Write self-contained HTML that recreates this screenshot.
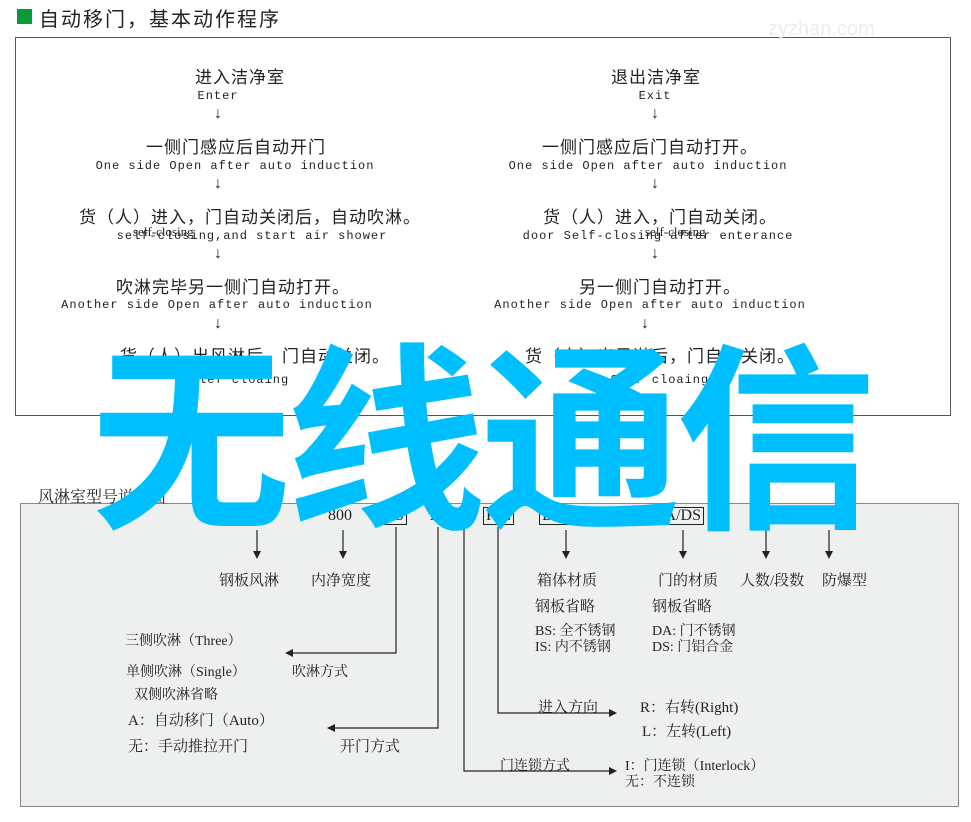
<!DOCTYPE html>
<html><head><meta charset="utf-8"><style>
body{margin:0;width:971px;height:822px;background:#fff;position:relative;overflow:hidden;font-family:"Liberation Serif","Noto Serif CJK SC",serif;color:#222}
.a{position:absolute;white-space:nowrap}
.c{position:absolute;white-space:nowrap;transform:translateX(-50%)}
.cn{font-size:17px;font-family:"Liberation Sans","Noto Sans CJK SC",sans-serif;letter-spacing:1px}
.en{font-size:12px;font-family:"Liberation Mono",monospace;letter-spacing:1px}
.ar{font-size:16px}
.b2{font-size:15px;font-family:"Liberation Serif","Noto Serif CJK SC",serif}
.box{position:absolute;border:1px solid #222;padding:0 2px;font-size:16px;line-height:16px}
</style></head><body>
<div class="a" style="left:17px;top:9px;width:15px;height:15px;background:#0a9a3a"></div>
<div class="a" style="left:39px;top:3px;font-size:20px;font-family:'Liberation Sans','Noto Sans CJK SC',sans-serif;letter-spacing:2px">自动移门，基本动作程序</div>
<div class="a" style="left:15px;top:37px;width:934px;height:377px;border:1px solid #555"></div>

<div class="c cn" style="left:240px;top:63px">进入洁净室</div>
<div class="c en" style="left:218px;top:89px">Enter</div>
<div class="c ar" style="left:218px;top:105px">↓</div>
<div class="c cn" style="left:236px;top:133px">一侧门感应后自动开门</div>
<div class="c en" style="left:235px;top:159px">One side Open after auto induction</div>
<div class="c ar" style="left:218px;top:175px">↓</div>
<div class="c cn" style="left:250px;top:203px">货（人）进入，门自动关闭后，自动吹淋。</div>
<div class="c en" style="left:252px;top:229px">self-closing,and start air shower</div>
<div class="a" style="left:133px;top:224px;font-size:13px">self-closing</div>
<div class="c ar" style="left:218px;top:245px">↓</div>
<div class="c cn" style="left:233px;top:273px">吹淋完毕另一侧门自动打开。</div>
<div class="c en" style="left:217px;top:298px">Another side Open after auto induction</div>
<div class="c ar" style="left:218px;top:315px">↓</div>
<div class="c cn" style="left:255px;top:342px">货（人）出风淋后，门自动关闭。</div>
<div class="c en" style="left:240px;top:373px">Slef cloaing</div>

<div class="c cn" style="left:656px;top:63px">退出洁净室</div>
<div class="c en" style="left:655px;top:89px">Exit</div>
<div class="c ar" style="left:655px;top:105px">↓</div>
<div class="c cn" style="left:650px;top:133px">一侧门感应后门自动打开。</div>
<div class="c en" style="left:648px;top:159px">One side Open after auto induction</div>
<div class="c ar" style="left:655px;top:175px">↓</div>
<div class="c cn" style="left:660px;top:203px">货（人）进入，门自动关闭。</div>
<div class="c en" style="left:658px;top:229px">door Self-closing after enterance</div>
<div class="a" style="left:645px;top:224px;font-size:13px">self-closing</div>
<div class="c ar" style="left:655px;top:245px">↓</div>
<div class="c cn" style="left:660px;top:273px">另一侧门自动打开。</div>
<div class="c en" style="left:650px;top:298px">Another side Open after auto induction</div>
<div class="c ar" style="left:645px;top:315px">↓</div>
<div class="c cn" style="left:660px;top:342px">货（人）出风淋后，门自动关闭。</div>
<div class="c en" style="left:660px;top:373px">Slef cloaing</div>

<div class="a" style="left:20px;top:503px;width:937px;height:302px;border:1px solid #888;background:#eef0ef"></div>
<div class="a b2" style="left:38px;top:484px;font-size:16px">风淋室型号说明图</div>
<div class="a b2" style="left:328px;top:507px;font-size:16px">800</div>
<div class="box" style="left:376px;top:507px">A/S</div>
<div class="a b2" style="left:430px;top:507px;font-size:16px">A</div>
<div class="box" style="left:483px;top:507px">R/L</div>
<div class="box" style="left:539px;top:507px">BS/IS</div>
<div class="box" style="left:650px;top:507px">DA/DS</div>
<div class="a b2" style="left:750px;top:507px;font-size:16px">2</div>
<div class="a b2" style="left:818px;top:507px;font-size:16px">EX</div>

<svg class="a" style="left:0;top:0" width="971" height="822">
<g stroke="#222" stroke-width="1.2" fill="none">
<line x1="257" y1="530" x2="257" y2="553"/><line x1="343" y1="530" x2="343" y2="553"/>
<line x1="566" y1="530" x2="566" y2="553"/><line x1="683" y1="530" x2="683" y2="553"/>
<line x1="766" y1="530" x2="766" y2="553"/><line x1="829" y1="530" x2="829" y2="553"/>
<polyline points="396,527 396,653 290,653"/>
<polyline points="438,527 438,728 332,728"/>
<polyline points="498,527 498,713 612,713"/>
<polyline points="464,527 464,771 612,771"/>
</g>
<g fill="#222">
<polygon points="253,551 261,551 257,559"/><polygon points="339,551 347,551 343,559"/>
<polygon points="562,551 570,551 566,559"/><polygon points="679,551 687,551 683,559"/>
<polygon points="762,551 770,551 766,559"/><polygon points="825,551 833,551 829,559"/>
<polygon points="285,653 293,649 293,657"/><polygon points="327,728 335,724 335,732"/>
<polygon points="617,713 609,709 609,717"/><polygon points="617,771 609,767 609,775"/>
</g></svg>

<div class="a b2" style="left:219px;top:569px">钢板风淋</div>
<div class="a b2" style="left:311px;top:569px">内净宽度</div>
<div class="a b2" style="left:537px;top:569px">箱体材质</div>
<div class="a b2" style="left:658px;top:569px">门的材质</div>
<div class="a b2" style="left:740px;top:569px">人数/段数</div>
<div class="a b2" style="left:822px;top:569px">防爆型</div>
<div class="a b2" style="left:535px;top:595px">钢板省略</div>
<div class="a b2" style="left:652px;top:595px">钢板省略</div>
<div class="a b2" style="left:535px;top:620px;font-size:14px">BS: 全不锈钢</div>
<div class="a b2" style="left:535px;top:636px;font-size:14px">IS: 内不锈钢</div>
<div class="a b2" style="left:652px;top:620px;font-size:14px">DA: 门不锈钢</div>
<div class="a b2" style="left:652px;top:636px;font-size:14px">DS: 门铝合金</div>
<div class="a b2" style="left:125px;top:630px;font-size:14px">三侧吹淋（Three）</div>
<div class="a b2" style="left:126px;top:661px;font-size:14px">单侧吹淋（Single）</div>
<div class="a b2" style="left:292px;top:661px;font-size:14px">吹淋方式</div>
<div class="a b2" style="left:134px;top:684px;font-size:14px">双侧吹淋省略</div>
<div class="a b2" style="left:128px;top:709px">A：自动移门（Auto）</div>
<div class="a b2" style="left:128px;top:735px">无：手动推拉开门</div>
<div class="a b2" style="left:340px;top:735px">开门方式</div>
<div class="a b2" style="left:538px;top:696px">进入方向</div>
<div class="a b2" style="left:640px;top:696px">R：右转(Right)</div>
<div class="a b2" style="left:642px;top:720px">L：左转(Left)</div>
<div class="a b2" style="left:500px;top:755px;font-size:14px">门连锁方式</div>
<div class="a b2" style="left:625px;top:755px;font-size:14px">I：门连锁（Interlock）</div>
<div class="a b2" style="left:625px;top:771px;font-size:14px">无：不连锁</div>

<div class="a" style="left:91px;top:316px;font-size:200px;line-height:220px;font-weight:bold;color:#00bfff;font-family:'Noto Sans CJK SC',sans-serif;letter-spacing:-5px">无线通信</div>
<div class="a" style="left:768px;top:18px;font-size:20px;color:#ececec;font-family:'Liberation Sans',sans-serif">zyzhan.com</div>
</body></html>
